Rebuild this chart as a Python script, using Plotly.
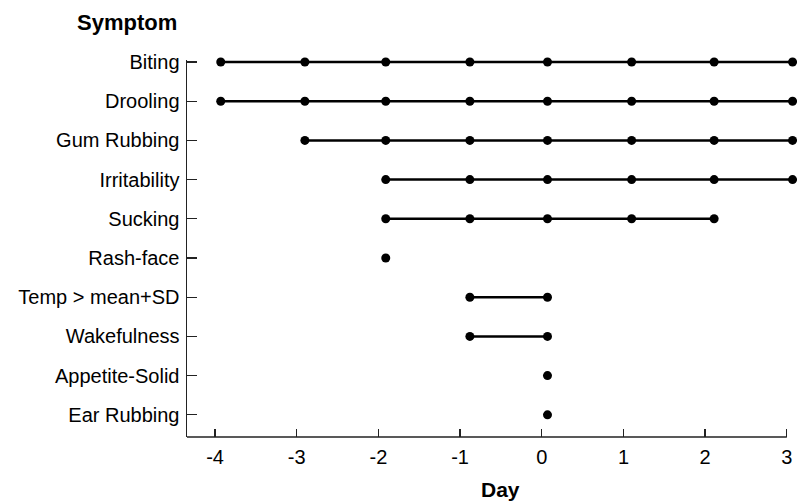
import plotly.graph_objects as go

symptoms = ["Biting", "Drooling", "Gum Rubbing", "Irritability", "Sucking",
            "Rash-face", "Temp > mean+SD", "Wakefulness", "Appetite-Solid", "Ear Rubbing"]
# days (plotted positions) on which each symptom was observed
observed = {
    "Biting":         [-3.93, -2.9, -1.91, -0.88, 0.07, 1.1, 2.11, 3.07],
    "Drooling":       [-3.93, -2.9, -1.91, -0.88, 0.07, 1.1, 2.11, 3.07],
    "Gum Rubbing":    [-2.9, -1.91, -0.88, 0.07, 1.1, 2.11, 3.07],
    "Irritability":   [-1.91, -0.88, 0.07, 1.1, 2.11, 3.07],
    "Sucking":        [-1.91, -0.88, 0.07, 1.1, 2.11],
    "Rash-face":      [-1.91],
    "Temp > mean+SD": [-0.88, 0.07],
    "Wakefulness":    [-0.88, 0.07],
    "Appetite-Solid": [0.07],
    "Ear Rubbing":    [0.07],
}
x_ticks = [-4, -3, -2, -1, 0, 1, 2, 3]

W, H = 797, 502
L, R, T, B = 187, 2, 60, 65
xr = [-4.343, 3.1]
yr = [9.566, -0.051]
PW, PH = W - L - R, H - T - B

fig = go.Figure()
for s in symptoms:
    xs = observed[s]
    fig.add_trace(go.Scatter(
        x=xs, y=[s] * len(xs), mode="lines+markers",
        line=dict(color="black", width=2.5),
        marker=dict(color="black", size=9),
        cliponaxis=False, showlegend=False, hoverinfo="skip",
    ))

font_family = "Liberation Sans, Arial, Helvetica, sans-serif"
fig.update_layout(
    width=W, height=H,
    margin=dict(l=L, r=R, t=T, b=B),
    plot_bgcolor="white", paper_bgcolor="white",
    font=dict(family=font_family, size=20, color="black"),
    xaxis=dict(
        range=xr, tickvals=x_ticks, ticktext=[str(v) for v in x_ticks],
        ticks="inside", ticklen=8, tickwidth=1.3, tickcolor="#222",
        showline=False, showgrid=False, zeroline=False, automargin=False,
        ticklabelstandoff=6,
        tickfont=dict(size=20, color="black"),
    ),
    yaxis=dict(
        categoryorder="array", categoryarray=symptoms,
        range=yr, ticks="inside", ticklen=10, tickwidth=1.3, tickcolor="#222",
        showline=True, linecolor="#222", linewidth=1.5, showgrid=False, zeroline=False,
        ticklabelstandoff=2, automargin=False,
        tickfont=dict(size=20, color="black"),
    ),
    shapes=[dict(type="line", xref="x", yref="paper", x0=xr[0], x1=3.0, y0=0, y1=0,
                 line=dict(color="#222", width=1.5))],
    annotations=[
        dict(text="<b>Symptom</b>", xref="paper", yref="paper",
             x=(179 - L) / PW, y=(H - B - 23) / PH,
             xanchor="right", yanchor="middle", showarrow=False,
             font=dict(size=22, family=font_family, color="black")),
        dict(text="<b>Day</b>", xref="paper", yref="paper",
             x=(500 - L) / PW, y=-(489 - (H - B)) / PH,
             xanchor="center", yanchor="middle", showarrow=False,
             font=dict(size=21, family=font_family, color="black")),
    ],
)
fig.write_html("out.html", config={"displayModeBar": False, "staticPlot": True},
               post_script="document.body.style.margin='0';document.body.style.overflow='hidden';")
